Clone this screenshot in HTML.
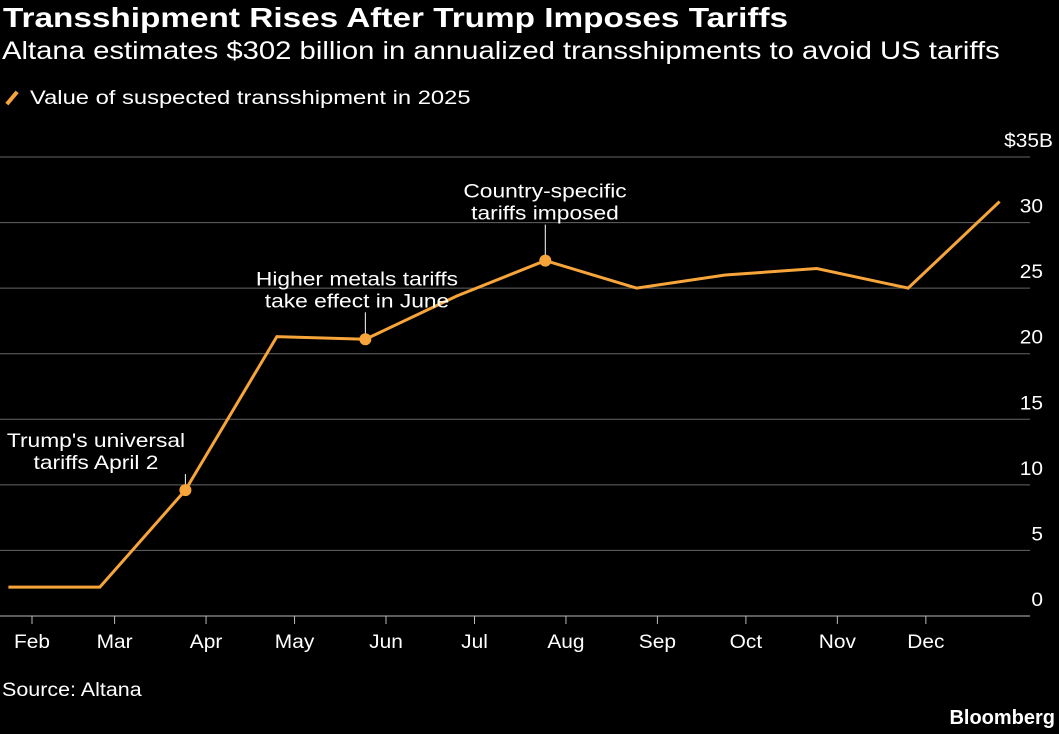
<!DOCTYPE html>
<html><head><meta charset="utf-8"><style>
html,body{margin:0;padding:0;background:#000;}
body{width:1059px;height:734px;overflow:hidden;font-family:"Liberation Sans",sans-serif;color:#fff;position:relative;}
.t{position:absolute;white-space:nowrap;transform-origin:0 0;}
</style></head><body>
<div class="t" style="left:3px;top:2px;font-size:28px;font-weight:bold;transform:scaleX(1.19);">Transshipment Rises After Trump Imposes Tariffs</div>
<div class="t" style="left:2px;top:37px;font-size:25px;transform:scaleX(1.17);">Altana estimates $302 billion in annualized transshipments to avoid US tariffs</div>
<div class="t" style="left:4px;top:88px;font-size:19px;"><span style="display:inline-block;width:4px;height:16px;background:#f7a53a;transform:rotate(40deg);margin:0 16px 0 6px;vertical-align:-2px;"></span><span style="display:inline-block;transform:scaleX(1.25);transform-origin:0 0;">Value of suspected transshipment in 2025</span></div>
<svg id="chart" width="1059" height="734" style="position:absolute;left:0;top:0;"></svg>
<div class="t" style="left:2px;top:680px;font-size:19px;transform:scaleX(1.13);">Source: Altana</div>
<div class="t" style="right:4px;top:707px;font-size:20px;font-weight:bold;">Bloomberg</div>
<script>
const pointDays=[23,54,83,114,144,175,205,236,266,297,328,359];
const values=[2.2,2.2,9.6,21.3,21.1,24.4,27.1,25.0,26.0,26.5,25.0,31.6];
const monthLabels=["Feb","Mar","Apr","May","Jun","Jul","Aug","Sep","Oct","Nov","Dec"];
const monthDays=[31,59,90,120,151,181,212,243,273,304,334];
const yTicks=[0,5,10,15,20,25,30,35];
const yTickLabels=["0","5","10","15","20","25","30","$35B"];
const annotations=[
 {i:2,lines:["Trump's universal","tariffs April 2"],cx:96,gap:21},
 {i:4,lines:["Higher metals tariffs","take effect in June"],cx:357,gap:32},
 {i:6,lines:["Country-specific","tariffs imposed"],cx:545,gap:41}
];
const NS="http://www.w3.org/2000/svg";
const svg=document.getElementById('chart');
const x=d=>32+(d-31)*2.95;
const y=v=>616-v*(459/35);
function mk(tag,attrs,parent){const e=document.createElementNS(NS,tag);for(const k in attrs)e.setAttribute(k,attrs[k]);(parent||svg).appendChild(e);return e;}
function sx(t,cx,s){t.setAttribute('transform','translate('+cx+',0) scale('+s+',1) translate('+(-cx)+',0)');}
yTicks.forEach((v,k)=>{
 const l=mk('line',{x1:0,x2:1030,y1:y(v),y2:y(v),stroke:v===0?'#bbb':'#666','stroke-width':1});
 
 
 const t=mk('text',{x:1043,y:y(v)-10,'text-anchor':'end',fill:'#fff','font-size':19});
 t.textContent=yTickLabels[k];
 if(k===yTicks.length-1){t.setAttribute('x',1053);}
 sx(t,k===yTicks.length-1?1053:1043,1.1);
 
 
});
monthDays.forEach((d,k)=>{
 const l=mk('line',{x1:x(d),x2:x(d),y1:616,y2:624,stroke:'#bbb'});
 
 
 const t=mk('text',{x:x(d),y:648,'text-anchor':'middle',fill:'#fff','font-size':19});
 t.textContent=monthLabels[k];
 sx(t,x(d),1.1);
 
 
});
const p=mk('polyline',{points:pointDays.map((d,k)=>x(d)+','+y(values[k])).join(' '),fill:'none',stroke:'#f7a53a','stroke-width':3,'stroke-linejoin':'miter'});


annotations.forEach(a=>{
 const px=x(pointDays[a.i]),py=y(values[a.i]);
 const l=mk('line',{x1:px,x2:px,y1:py,y2:py-a.gap+5,stroke:'#fff','stroke-width':1});
 
 
 const c=mk('circle',{cx:px,cy:py,r:6,fill:'#f7a53a'});
 
 
 a.lines.forEach((s,j)=>{
  const t=mk('text',{x:a.cx,y:py-a.gap-(a.lines.length-1-j)*22,'text-anchor':'middle',fill:'#fff','font-size':19});
  t.textContent=s;
  sx(t,a.cx,1.2);
  
  
 });
});
</script>
</body></html>
